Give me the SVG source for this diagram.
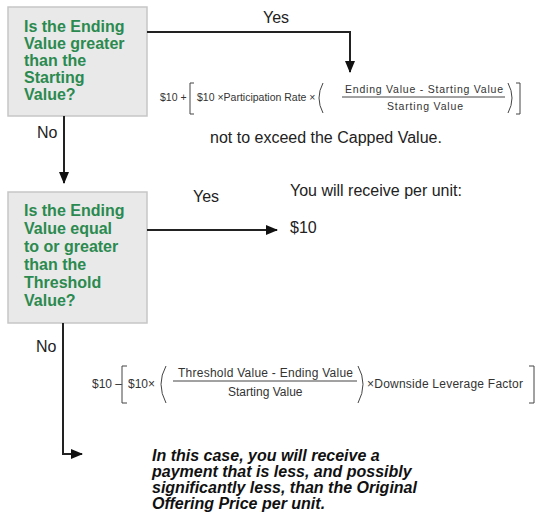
<svg xmlns="http://www.w3.org/2000/svg" width="537" height="520" viewBox="0 0 537 520">
<defs>
<style>
.box{fill:#e9e9e9;stroke:#c6c6c6;stroke-width:1.5}
.q{font-family:"Liberation Sans",Arial,sans-serif;font-size:16px;font-weight:bold;fill:#2b8a4f}
.lbl{font-family:"Liberation Sans",Arial,sans-serif;font-size:16px;fill:#222}
.f{font-family:"Liberation Sans",Arial,sans-serif;font-size:10.5px;fill:#333}
.f2{font-family:"Liberation Sans",Arial,sans-serif;font-size:12px;fill:#333}
.it{font-family:"Liberation Sans",Arial,sans-serif;font-size:16px;font-weight:bold;font-style:italic;fill:#111}
.ln{fill:none;stroke:#222;stroke-width:2}
.br{fill:none;stroke:#444;stroke-width:1}
</style>
<marker id="ah" markerWidth="12" markerHeight="10" refX="11" refY="5" orient="auto" markerUnits="userSpaceOnUse">
<path d="M0,0 L12,5 L0,10 Z" fill="#111"/>
</marker>
</defs>
<rect width="537" height="520" fill="#fff"/>

<g id="node-q1">
<rect class="box" x="8" y="7" width="139" height="109"/>
<text class="q" x="24" y="32">Is the Ending</text>
<text class="q" x="24" y="49">Value greater</text>
<text class="q" x="24" y="66">than the</text>
<text class="q" x="24" y="83">Starting</text>
<text class="q" x="24" y="100">Value?</text>
</g>

<g id="node-q2">
<rect class="box" x="8" y="192" width="139" height="131"/>
<text class="q" x="24" y="216">Is the Ending</text>
<text class="q" x="24" y="234">Value equal</text>
<text class="q" x="24" y="252">to or greater</text>
<text class="q" x="24" y="270">than the</text>
<text class="q" x="24" y="288">Threshold</text>
<text class="q" x="24" y="306">Value?</text>
</g>

<g id="connectors">
<path class="ln" d="M147,32 H350 V72" marker-end="url(#ah)"/>
<path class="ln" d="M64,116 V183" marker-end="url(#ah)"/>
<path class="ln" d="M147,230 H277" marker-end="url(#ah)"/>
<path class="ln" d="M63,323 V454 H82" marker-end="url(#ah)"/>
<text class="lbl" x="263" y="23">Yes</text>
<text class="lbl" x="37" y="138">No</text>
<text class="lbl" x="193" y="202">Yes</text>
<text class="lbl" x="36" y="352">No</text>
</g>

<g id="node-formula1">
<text class="f" x="160" y="101">$10 +</text>
<path class="br" d="M194,83 H190 V114 H194"/>
<text class="f" x="197" y="101">$10 ×Participation Rate ×</text>
<path class="br" d="M323,83 Q315,98 323,113"/>
<text class="f" x="345" y="93" textLength="158" lengthAdjust="spacing">Ending  Value - Starting  Value</text>
<line class="br" x1="342" y1="97" x2="505" y2="97"/>
<text class="f" x="387" y="110" textLength="76" lengthAdjust="spacing">Starting  Value</text>
<path class="br" d="M508,83 Q516,98 508,113"/>
<path class="br" d="M516,83 H520 V114 H516"/>
<text class="lbl" x="210" y="143">not to exceed the Capped Value.</text>
</g>

<g id="node-result2">
<text class="lbl" x="290" y="196">You will receive per unit:</text>
<text class="lbl" x="290" y="233">$10</text>
</g>

<g id="node-formula2">
<text class="f2" x="92" y="388">$10 –</text>
<path class="br" d="M127,366 H122 V403 H127"/>
<text class="f2" x="128" y="388">$10×</text>
<path class="br" d="M166,366 Q156,384 166,403"/>
<text class="f2" x="178" y="377" textLength="175" lengthAdjust="spacing">Threshold Value - Ending Value</text>
<line class="br" x1="173" y1="381" x2="357" y2="381"/>
<text class="f2" x="228" y="396">Starting Value</text>
<path class="br" d="M358,366 Q368,384 358,403"/>
<text class="f2" x="367" y="388" textLength="156" lengthAdjust="spacing">×Downside Leverage Factor</text>
<path class="br" d="M529,366 H534 V403 H529"/>
</g>

<g id="node-note">
<text class="it" x="152" y="461">In this case, you will receive a</text>
<text class="it" x="152" y="477">payment that is less, and possibly</text>
<text class="it" x="152" y="493">significantly less, than the Original</text>
<text class="it" x="152" y="509">Offering Price per unit.</text>
</g>
</svg>
